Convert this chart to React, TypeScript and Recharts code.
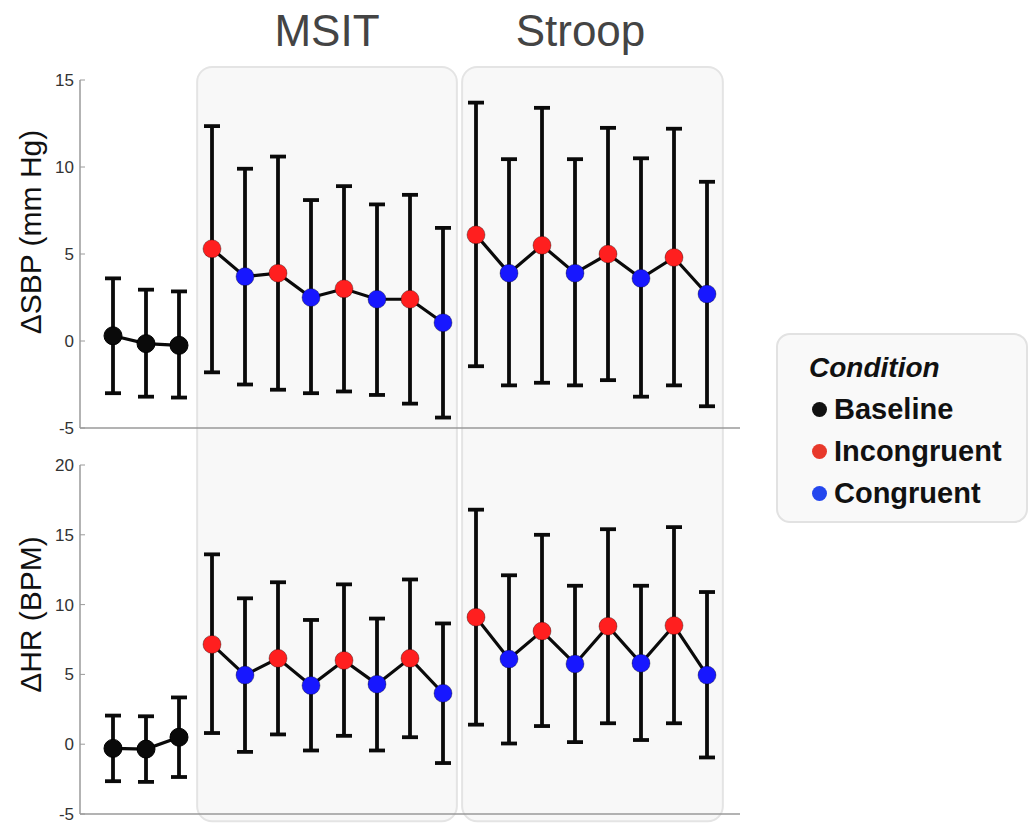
import React from "react";
import {
  LineChart,
  Line,
  XAxis,
  YAxis,
  ErrorBar,
  ReferenceArea,
  Label,
} from "recharts";

// x positions of the 19 blocks (3 baseline, 8 MSIT, 8 Stroop)
const positions = [1, 2, 3, 4, 5, 6, 7, 8, 9, 10, 11, 12, 13, 14, 15, 16, 17, 18, 19];
const groups = [
  "Baseline", "Baseline", "Baseline",
  "MSIT", "MSIT", "MSIT", "MSIT", "MSIT", "MSIT", "MSIT", "MSIT",
  "Stroop", "Stroop", "Stroop", "Stroop", "Stroop", "Stroop", "Stroop", "Stroop",
];
const conditions = [
  "Baseline", "Baseline", "Baseline",
  "Incongruent", "Congruent", "Incongruent", "Congruent", "Incongruent", "Congruent", "Incongruent", "Congruent",
  "Incongruent", "Congruent", "Incongruent", "Congruent", "Incongruent", "Congruent", "Incongruent", "Congruent",
];

const sbpMean = [0.3, -0.15, -0.25, 5.3, 3.7, 3.9, 2.5, 3.0, 2.4, 2.4, 1.05, 6.1, 3.9, 5.5, 3.9, 5.0, 3.6, 4.8, 2.7];
const sbpUpper = [3.6, 2.95, 2.85, 12.35, 9.9, 10.6, 8.1, 8.9, 7.85, 8.4, 6.5, 13.7, 10.45, 13.4, 10.45, 12.25, 10.5, 12.2, 9.15];
const sbpLower = [-3.0, -3.2, -3.25, -1.8, -2.5, -2.8, -3.0, -2.9, -3.1, -3.6, -4.4, -1.45, -2.55, -2.4, -2.55, -2.25, -3.2, -2.55, -3.75];

const hrMean = [-0.3, -0.35, 0.5, 7.15, 4.95, 6.15, 4.2, 6.0, 4.3, 6.15, 3.65, 9.1, 6.1, 8.1, 5.75, 8.45, 5.8, 8.5, 4.95];
const hrUpper = [2.05, 2.0, 3.35, 13.6, 10.45, 11.6, 8.9, 11.45, 9.0, 11.8, 8.65, 16.8, 12.1, 15.0, 11.35, 15.4, 11.35, 15.55, 10.9];
const hrLower = [-2.65, -2.7, -2.35, 0.8, -0.55, 0.7, -0.45, 0.6, -0.45, 0.5, -1.35, 1.4, 0.05, 1.3, 0.15, 1.5, 0.3, 1.5, -0.95];

const sbpTicks = [-5, 0, 5, 10, 15];
const hrTicks = [-5, 0, 5, 10, 15, 20];
const groupNames = ["Baseline", "MSIT", "Stroop"];
const legendItems = ["Baseline", "Incongruent", "Congruent"];

const DOT_COLORS: Record<string, string> = {
  Baseline: "#0a0a0a",
  Incongruent: "#ff1f1f",
  Congruent: "#1717ff",
};
const LEGEND_COLORS: Record<string, string> = {
  Baseline: "#111111",
  Incongruent: "#e8392b",
  Congruent: "#2447ee",
};

const W = 1030;
const H = 824;
const AXIS = "#9a9a9a";
const FONT = "'Liberation Sans', Arial, Helvetica, sans-serif";

function buildRows(mean: number[], lower: number[], upper: number[]) {
  return positions.map((x, i) => ({
    x,
    group: groups[i],
    cond: conditions[i],
    value: mean[i],
    err: [mean[i] - lower[i], upper[i] - mean[i]],
  }));
}

const sbpRows = buildRows(sbpMean, sbpLower, sbpUpper);
const hrRows = buildRows(hrMean, hrLower, hrUpper);

const renderDot = (props: any) => {
  const { cx, cy, payload, index } = props;
  if (cx == null || cy == null) return <g key={`d-${index}`} />;
  const fill = DOT_COLORS[payload.cond];
  return (
    <circle
      key={`d-${index}-${payload.x}`}
      cx={cx}
      cy={cy}
      r={9}
      fill={fill}
      stroke={payload.cond === "Baseline" ? "#000" : "rgba(0,0,0,0.35)"}
      strokeWidth={1}
    />
  );
};

const yLabel = (text: string, shift: number) => (props: any) => {
  const vb = props.viewBox || { y: 0, height: 0 };
  const cx = 30;
  const cy = vb.y + vb.height / 2 + shift;
  return (
    <text
      x={cx}
      y={cy}
      transform={`rotate(-90 ${cx} ${cy})`}
      textAnchor="middle"
      dominantBaseline="central"
      fontSize={30}
      fill="#111"
      fontFamily={FONT}
    >
      {text}
    </text>
  );
};

const boxShape = (p: any) => (
  <rect x={p.x} y={p.y} width={p.width} height={p.height} rx={15} fill="#f8f8f8" stroke="#e4e4e4" strokeWidth={2} />
);

function Panel({
  rows,
  ticks,
  domain,
  label,
  labelShift,
  margin,
  boxes,
}: {
  rows: any[];
  ticks: number[];
  domain: [number, number];
  label: string;
  labelShift: number;
  margin: { top: number; right: number; bottom: number; left: number };
  boxes?: boolean;
}) {
  return (
    <LineChart width={W} height={H} margin={margin}>
      {boxes && (
        <ReferenceArea x1={3.55} x2={11.42} y1={-27.6} y2={15.75} ifOverflow="visible" shape={boxShape}>
          <Label value="MSIT" position="top" offset={21} fontSize={44} fill="#444" fontFamily={FONT} />
        </ReferenceArea>
      )}
      {boxes && (
        <ReferenceArea x1={11.58} x2={19.48} y1={-27.6} y2={15.75} ifOverflow="visible" shape={boxShape}>
          <Label value="Stroop" position="top" offset={21} dx={-12} fontSize={44} fill="#444" fontFamily={FONT} />
        </ReferenceArea>
      )}
      <XAxis
        type="number"
        dataKey="x"
        domain={[0, 20]}
        ticks={positions}
        tick={false}
        tickSize={-6}
        height={2}
        allowDataOverflow
        axisLine={{ stroke: AXIS, strokeWidth: 1.5 }}
        tickLine={{ stroke: AXIS, strokeWidth: 1 }}
      />
      <YAxis
        type="number"
        domain={domain}
        ticks={ticks}
        width={80}
        tickSize={-5}
        tickMargin={11}
        allowDataOverflow
        interval={0}
        axisLine={{ stroke: AXIS, strokeWidth: 1.5 }}
        tickLine={{ stroke: AXIS, strokeWidth: 1 }}
        tick={{ fontSize: 17, fill: "#333", fontFamily: FONT }}
      >
        <Label content={yLabel(label, labelShift)} />
      </YAxis>
      {groupNames.map((g) => (
        <Line
          key={g}
          data={rows.filter((r) => r.group === g)}
          dataKey="value"
          stroke="#0a0a0a"
          strokeWidth={3.2}
          dot={renderDot}
          activeDot={false}
          isAnimationActive={false}
        >
          <ErrorBar dataKey="err" direction="y" width={8} stroke="#0a0a0a" strokeWidth={3.8} isAnimationActive={false} />
        </Line>
      ))}
    </LineChart>
  );
}

export default function App() {
  return (
    <div
      style={{
        position: "absolute",
        left: 0,
        top: 0,
        width: W,
        height: H,
        background: "#fff",
        fontFamily: FONT,
        overflow: "hidden",
      }}
    >
      <div style={{ position: "absolute", left: 0, top: 0 }}>
        <Panel
          rows={sbpRows}
          ticks={sbpTicks}
          domain={[-5, 15]}
          label="ΔSBP (mm Hg)"
          labelShift={-22}
          margin={{ top: 80, right: 290, bottom: 394, left: 0 }}
          boxes
        />
      </div>
      <div style={{ position: "absolute", left: 0, top: 0 }}>
        <Panel
          rows={hrRows}
          ticks={hrTicks}
          domain={[-5, 20]}
          label="ΔHR (BPM)"
          labelShift={-25}
          margin={{ top: 465, right: 290, bottom: 8, left: 0 }}
        />
      </div>
      <div
        style={{
          position: "absolute",
          left: 776,
          top: 333,
          width: 252,
          height: 190,
          boxSizing: "border-box",
          background: "#f9f9f9",
          border: "2px solid #e2e2e2",
          borderRadius: 14,
          padding: "13px 0 0 34px",
        }}
      >
        <div
          style={{
            fontSize: 28,
            fontWeight: 700,
            fontStyle: "italic",
            color: "#111",
            lineHeight: "40px",
            marginLeft: -3,
          }}
        >
          Condition
        </div>
        {legendItems.map((c) => (
          <div
            key={c}
            style={{
              display: "flex",
              alignItems: "center",
              fontSize: 29,
              fontWeight: 700,
              color: "#111",
              lineHeight: "42px",
              whiteSpace: "nowrap",
            }}
          >
            <span
              style={{
                display: "inline-block",
                width: 15,
                height: 15,
                borderRadius: "50%",
                background: LEGEND_COLORS[c],
                marginRight: 7,
                flex: "none",
              }}
            />
            {c}
          </div>
        ))}
      </div>
    </div>
  );
}
